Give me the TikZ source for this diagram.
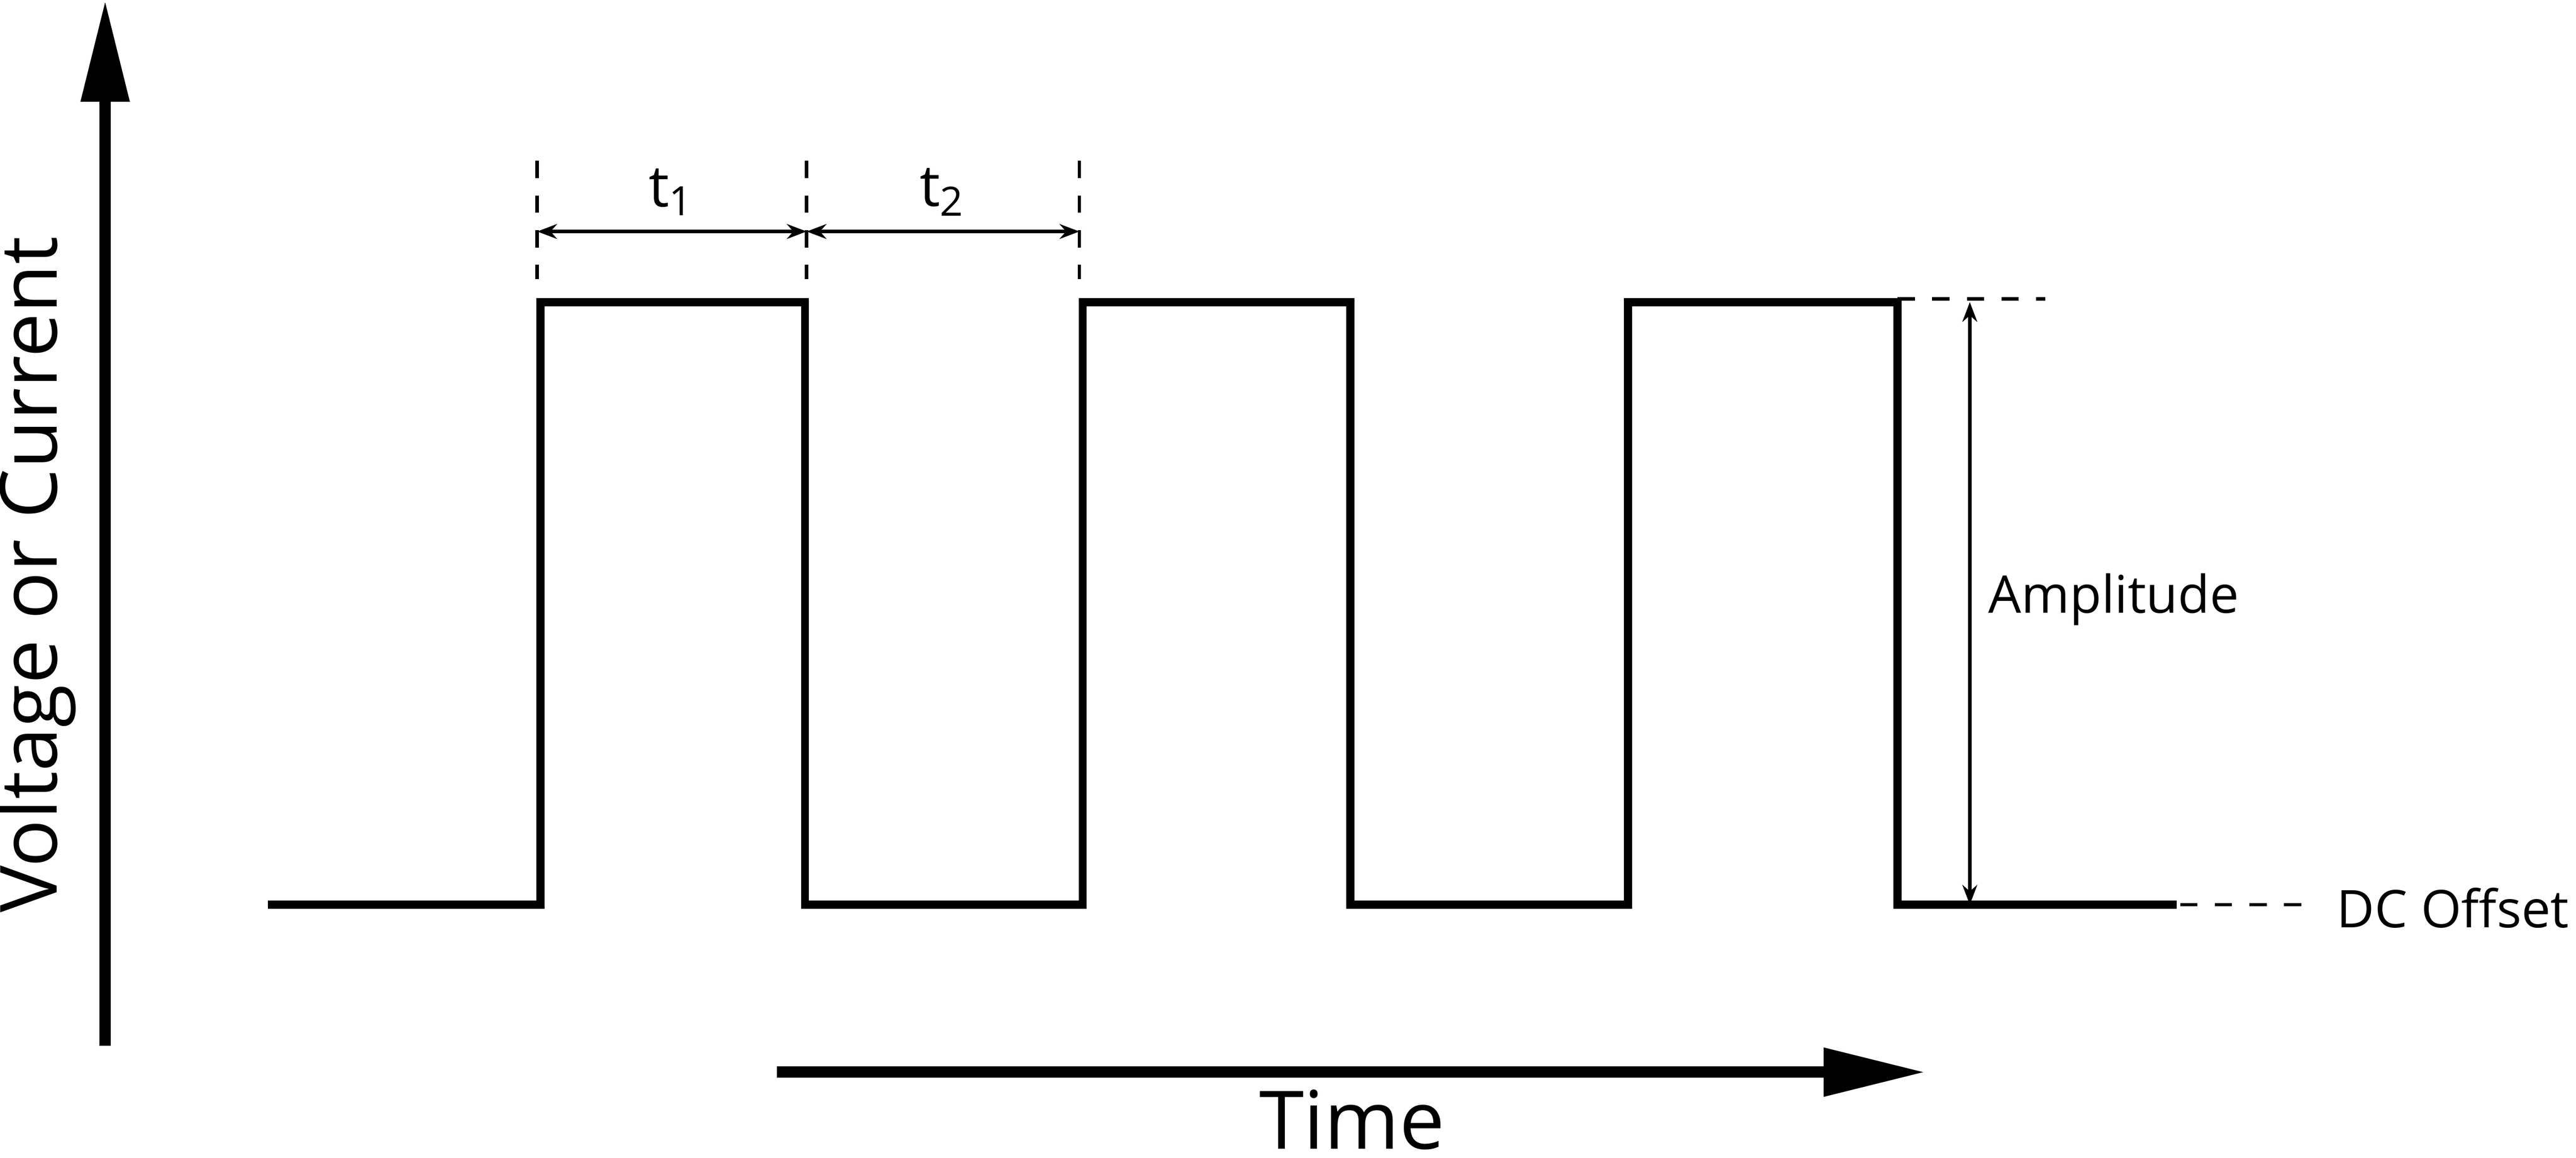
\documentclass[tikz,border=0pt]{standalone}
\usepackage{fontspec}
\setmainfont{Open Sans}
\usetikzlibrary{arrows.meta}
\begin{document}
\begin{tikzpicture}[
    axis/.style={line width=2pt, -{Triangle[length=0.62cm,width=0.28cm]}},
    wave/.style={line width=1.4pt},
    guide/.style={dashed, line width=0.6pt},
    dim/.style={line width=0.6pt, {Stealth[length=0.12cm]}-{Stealth[length=0.12cm]}}
]
\useasboundingbox (0,0) rectangle (15.68,-7.05);
% Achsen
\coordinate (y0) at (0.64,-6.37);
\coordinate (y1) at (0.64,0);
\coordinate (x0) at (4.73,-6.53);
\coordinate (x1) at (11.72,-6.53);
\draw[axis] (y0) -- (y1);
\draw[axis] (x0) -- (x1);
\node[rotate=90, font=\fontsize{13.7}{15}\selectfont] (ylab) at (0.22,-3.50) {Voltage or Current};
\node[font=\fontsize{14}{16}\selectfont] (xlab) at (8.23,-6.82) {Time};

% Rechteck-Signal
\draw[wave] (1.63,-5.51) -- (3.29,-5.51) -- (3.29,-1.84) -- (4.90,-1.84)
    -- (4.90,-5.51) -- (6.59,-5.51) -- (6.59,-1.84) -- (8.22,-1.84)
    -- (8.22,-5.51) -- (9.91,-5.51) -- (9.91,-1.84) -- (11.55,-1.84)
    -- (11.55,-5.51) -- (13.25,-5.51);

% Perioden
\coordinate (p1) at (3.27,-1.41);
\coordinate (p2) at (4.91,-1.41);
\coordinate (p3) at (6.57,-1.41);
\draw[guide] (3.27,-0.98) -- (3.27,-1.70);
\draw[guide] (4.91,-0.98) -- (4.91,-1.70);
\draw[guide] (6.57,-0.98) -- (6.57,-1.70);
\draw[dim] (p1) -- (p2);
\draw[dim] (p2) -- (p3);
\node[font=\fontsize{10}{12}\selectfont] (t1) at (4.09,-1.17) {t\textsubscript{1}};
\node[font=\fontsize{10}{12}\selectfont] (t2) at (5.74,-1.17) {t\textsubscript{2}};

% Amplitude und Offset
\coordinate (a0) at (11.99,-1.84);
\coordinate (a1) at (11.99,-5.51);
\draw[guide] (11.55,-1.82) -- (12.45,-1.82);
\draw[dim] (a0) -- (a1);
\node[anchor=west, font=\fontsize{9}{11}\selectfont] (amp) at (11.98,-3.65) {Amplitude};
\draw[guide] (13.27,-5.51) -- (14.10,-5.51);
\node[anchor=west, font=\fontsize{9}{11}\selectfont] (dc) at (14.10,-5.53) {DC Offset};
\end{tikzpicture}
\end{document}
